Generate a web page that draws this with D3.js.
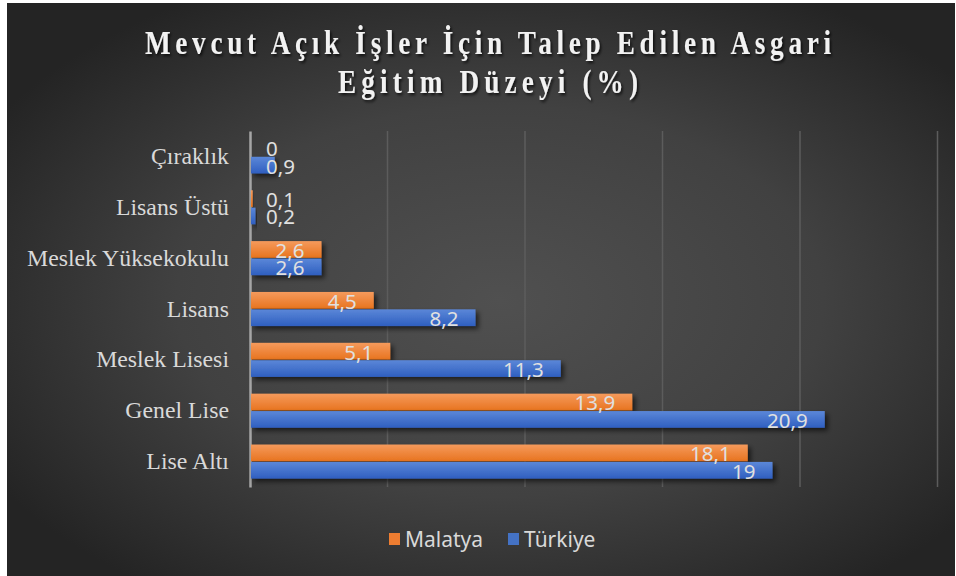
<!DOCTYPE html>
<html>
<head>
<meta charset="utf-8">
<script src="https://cdn.jsdelivr.net/npm/d3@7"></script>
<style>
  body { margin: 0; background: #fff; }
  svg { display: block; }
</style>
</head>
<body>
<div id="chart"></div>
<script>
// data
var categories = ["Çıraklık", "Lisans Üstü", "Meslek Yüksekokulu", "Lisans", "Meslek Lisesi", "Genel Lise", "Lise Altı"];
var seriesNames = ["Malatya", "Türkiye"];
var malatya = [0, 0.1, 2.6, 4.5, 5.1, 13.9, 18.1];
var turkiye = [0.9, 0.2, 2.6, 8.2, 11.3, 20.9, 19];
var xTicks = [0, 5, 10, 15, 20, 25];
var titleLines = ["Mevcut Açık İşler İçin Talep Edilen Asgari", "Eğitim Düzeyi (%)"];

var w = 956, h = 576;
var colors = ["#ed7d31", "#4472c4"];

var svg = d3.select("#chart").append("svg")
    .attr("width", w)
    .attr("height", h);

var defs = svg.append("defs");

// background gradient
var bg = defs.append("radialGradient")
    .attr("id", "bg")
    .attr("cx", "52%").attr("cy", "52%").attr("r", "62%");
bg.append("stop").attr("offset", "0%").attr("stop-color", "#505050");
bg.append("stop").attr("offset", "55%").attr("stop-color", "#414141");
bg.append("stop").attr("offset", "100%").attr("stop-color", "#242424");

// bar gradients
var barGrad = [["#f59a5c", "#e8741f"], ["#5b87d8", "#2f5fc0"]];
barGrad.forEach(function (c, i) {
    var g = defs.append("linearGradient")
        .attr("id", "bar" + i)
        .attr("x1", 0).attr("y1", 0).attr("x2", 0).attr("y2", 1);
    g.append("stop").attr("offset", "0%").attr("stop-color", c[0]);
    g.append("stop").attr("offset", "100%").attr("stop-color", c[1]);
});

var shadow = defs.append("filter").attr("id", "shadow")
    .attr("x", "-10%").attr("y", "-30%").attr("width", "130%").attr("height", "190%");
shadow.append("feDropShadow")
    .attr("dx", 3).attr("dy", 3).attr("stdDeviation", 2.5)
    .attr("flood-color", "#000").attr("flood-opacity", 0.6);

var tshadow = defs.append("filter").attr("id", "tshadow");
tshadow.append("feDropShadow")
    .attr("dx", 2).attr("dy", 2).attr("stdDeviation", 1.5)
    .attr("flood-color", "#000").attr("flood-opacity", 0.7);

svg.append("rect")
    .attr("x", 7).attr("y", 3)
    .attr("width", 948).attr("height", 573)
    .attr("fill", "url(#bg)");

// title (narrow tall glyphs, spaced out)
var sx = 0.8;
svg.append("g")
    .attr("transform", "translate(488,0) scale(" + sx + ",1)")
    .selectAll("text")
    .data(titleLines)
    .enter()
    .append("text")
    .text(function (d) { return d; })
    .attr("x", 0)
    .attr("y", function (d, i) { return 54 + i * 39; })
    .attr("text-anchor", "middle")
    .attr("font-family", "'Liberation Serif', serif")
    .attr("font-weight", "bold")
    .attr("font-size", "34px")
    .attr("textLength", function (d, i) { return (i == 0 ? 686 : 300) / sx; })
    .attr("lengthAdjust", "spacing")
    .attr("fill", "#f2f2f2")
    .attr("filter", "url(#tshadow)");

//Create scale functions
var xScale = d3.scaleLinear()
    .domain([0, 25])
    .range([250, 937.5]);

var yScale = d3.scaleBand()
    .domain(categories)
    .range([131, 487])
    .paddingInner(0.33)
    .paddingOuter(0.165);

var sScale = d3.scaleBand()
    .domain(seriesNames)
    .range([0, yScale.bandwidth()])
    .paddingInner(0.04);

// gridlines
svg.append("g")
    .selectAll("line")
    .data(xTicks.slice(1))
    .enter()
    .append("line")
    .attr("x1", function (d) { return xScale(d); })
    .attr("x2", function (d) { return xScale(d); })
    .attr("y1", 131)
    .attr("y2", 487)
    .attr("stroke", "#5c5c5c")
    .attr("stroke-width", 1.5);

// category axis
var yAxis = d3.axisLeft(yScale).tickSize(0).tickPadding(21);
var yg = svg.append("g")
    .attr("transform", "translate(" + xScale(0) + ",0)")
    .call(yAxis);
yg.select(".domain")
    .attr("stroke", "#a6a6a6")
    .attr("stroke-width", 2.5);
yg.selectAll("text")
    .attr("font-family", "'Liberation Serif', serif")
    .attr("font-size", "23.8px")
    .attr("fill", "#d9d9d9")
    .attr("dy", "0.32em");

// bars
var rows = [];
categories.forEach(function (c, i) {
    rows.push({ cat: c, s: 0, v: malatya[i] });
    rows.push({ cat: c, s: 1, v: turkiye[i] });
});

svg.append("g")
    .selectAll("rect")
    .data(rows)
    .enter()
    .append("rect")
    .attr("x", xScale(0) + 1)
    .attr("y", function (d) { return yScale(d.cat) + sScale(seriesNames[d.s]); })
    .attr("width", function (d) { return Math.max(0, xScale(d.v) - xScale(0) - 1); })
    .attr("height", sScale.bandwidth())
    .attr("fill", function (d) { return "url(#bar" + d.s + ")"; })
    .attr("filter", function (d) { return d.v > 0 ? "url(#shadow)" : null; });

// data labels
var labels = svg.append("g")
    .selectAll("text")
    .data(rows)
    .enter()
    .append("text")
    .text(function (d) { return String(d.v).replace(".", ","); })
    .attr("y", function (d) { return yScale(d.cat) + sScale(seriesNames[d.s]) + sScale.bandwidth() / 2 + 1; })
    .attr("dy", "0.36em")
    .attr("font-family", "'Noto Sans', sans-serif")
    .attr("font-size", "20.5px")
    .attr("fill", "#e0e0e0");

labels.attr("x", function (d) {
    var tw = this.getComputedTextLength();
    return Math.max(xScale(d.v) - 17 - tw, xScale(0) + 16);
});

// legend
var legend = svg.append("g")
    .selectAll("g")
    .data(seriesNames)
    .enter()
    .append("g")
    .attr("transform", function (d, i) { return "translate(" + (389 + i * 119) + ",533)"; });

legend.append("rect")
    .attr("width", 11)
    .attr("height", 12)
    .attr("fill", function (d, i) { return colors[i]; });

legend.append("text")
    .text(function (d) { return d; })
    .attr("x", 16)
    .attr("y", 6)
    .attr("dy", "0.36em")
    .attr("font-family", "'Noto Sans', sans-serif")
    .attr("font-size", "21px")
    .attr("fill", "#d9d9d9");
</script>
</body>
</html>
